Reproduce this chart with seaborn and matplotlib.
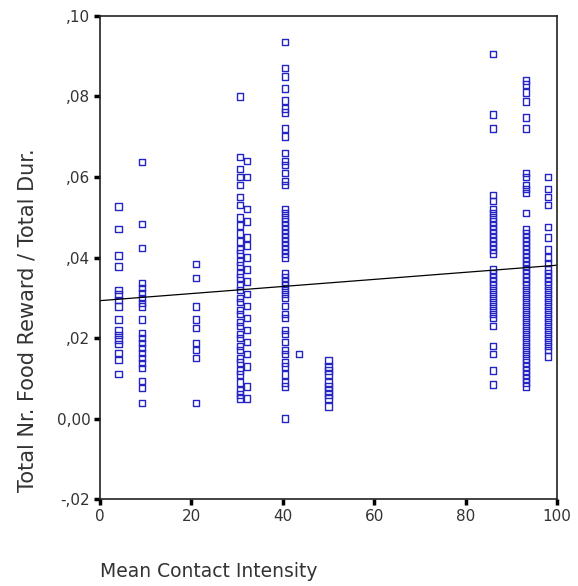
import numpy as np
import pandas as pd
import seaborn as sns
import matplotlib.pyplot as plt

# values, one list per intensity level
int_4 = [0.0527, 0.0471, 0.0405, 0.0378, 0.0320, 0.0308, 0.0295, 0.0279, 0.0246,
         0.0219, 0.0208, 0.0196, 0.0186, 0.0163, 0.0146, 0.0111]
int_9 = [0.0637, 0.0483, 0.0424, 0.0337, 0.0324, 0.0312, 0.0300, 0.0287, 0.0279,
         0.0246, 0.0213, 0.0200, 0.0188, 0.0176, 0.0163, 0.0151, 0.0138, 0.0126,
         0.0093, 0.0076, 0.0039]
int_21 = [0.0384, 0.0349, 0.0279, 0.0246, 0.0225, 0.0188, 0.0171, 0.0151, 0.0039]
int_31a = [0.080, 0.065, 0.062, 0.060, 0.058, 0.055, 0.053, 0.050, 0.048, 0.046,
           0.044, 0.042, 0.041, 0.039, 0.038, 0.036, 0.035, 0.033, 0.032, 0.030,
           0.029, 0.027, 0.026, 0.024, 0.023, 0.021, 0.020, 0.018, 0.017, 0.015,
           0.014, 0.012, 0.011, 0.009, 0.007, 0.006, 0.005]
int_31b = [0.064, 0.060, 0.052, 0.049, 0.045, 0.043, 0.040, 0.037, 0.034, 0.031,
           0.028, 0.025, 0.022, 0.019, 0.016, 0.013, 0.008, 0.005]
int_40 = [0.0935, 0.087, 0.085, 0.082, 0.079, 0.077, 0.076, 0.072, 0.070, 0.066,
          0.064, 0.063, 0.061, 0.059, 0.058, 0.052, 0.051, 0.050, 0.049, 0.048,
          0.047, 0.046, 0.045, 0.044, 0.043, 0.042, 0.041, 0.040, 0.036, 0.035,
          0.034, 0.033, 0.032, 0.031, 0.030, 0.028, 0.026, 0.025, 0.022, 0.021,
          0.019, 0.017, 0.016, 0.014, 0.013, 0.011, 0.009, 0.008, 0.000]
int_43 = [0.016]
int_50 = [0.0145, 0.013, 0.012, 0.011, 0.009, 0.008, 0.007, 0.006, 0.005, 0.003]
int_86 = [0.0905, 0.0755, 0.072, 0.0555, 0.054, 0.052, 0.051, 0.050, 0.049, 0.048,
          0.047, 0.046, 0.045, 0.044, 0.043, 0.042, 0.041, 0.037, 0.036, 0.035,
          0.034, 0.033, 0.032, 0.031, 0.030, 0.029, 0.028, 0.027, 0.026, 0.025,
          0.023, 0.018, 0.016, 0.012, 0.0085]
int_93 = [0.084, 0.083, 0.081, 0.0787, 0.0747, 0.072, 0.061, 0.060, 0.058, 0.057,
          0.056, 0.051, 0.047, 0.046, 0.045, 0.044, 0.043, 0.042, 0.041, 0.040,
          0.039, 0.038, 0.037, 0.036, 0.035, 0.034, 0.033, 0.032, 0.031, 0.030,
          0.029, 0.028, 0.027, 0.026, 0.025, 0.024, 0.023, 0.022, 0.021, 0.020,
          0.019, 0.018, 0.017, 0.016, 0.015, 0.014, 0.013, 0.012, 0.011, 0.010,
          0.009, 0.008]
int_98 = [0.060, 0.057, 0.055, 0.053, 0.0476, 0.045, 0.042, 0.040, 0.0387, 0.037,
          0.036, 0.035, 0.034, 0.033, 0.032, 0.031, 0.030, 0.029, 0.028, 0.027,
          0.026, 0.025, 0.024, 0.023, 0.022, 0.021, 0.020, 0.019, 0.018, 0.017,
          0.0154]

groups = {4: int_4, 9.2: int_9, 21: int_21, 30.6: int_31a, 32.2: int_31b,
          40.5: int_40, 43.5: int_43, 50: int_50, 86: int_86, 93.2: int_93,
          98: int_98}

# fit line
fit_x = [0, 100]
fit_y = [0.0293, 0.0381]

rows = []
for x, vals in groups.items():
    for v in vals:
        rows.append((x, v))
df = pd.DataFrame(rows, columns=['intensity', 'reward'])

sns.set_style('ticks')
plt.rcParams['font.family'] = ['DejaVu Sans']

fig = plt.figure(figsize=(5.78, 5.86), dpi=100)
ax = fig.add_axes([0.173, 0.148, 0.791, 0.825])

sns.scatterplot(data=df, x='intensity', y='reward', marker='s', s=22,
                facecolors='none', edgecolor='#2424c4', linewidth=1.0, ax=ax)
sns.lineplot(x=fit_x, y=fit_y, color='black', linewidth=0.9, ax=ax)

ax.set_xlim(0, 100)
ax.set_ylim(-0.02, 0.10)
ax.set_xticks([0, 20, 40, 60, 80, 100])
ax.set_yticks([-0.02, 0.0, 0.02, 0.04, 0.06, 0.08, 0.10])
ax.set_yticklabels(['-,02', '0,00', ',02', ',04', ',06', ',08', ',10'])
ax.tick_params(length=4, width=2.5, pad=3, labelsize=11, colors='black',
               labelcolor='#333333')
for s in ax.spines.values():
    s.set_linewidth(1.2)
    s.set_color('#222222')

ax.set_xlabel('')
ax.set_ylabel('')
fig.text(0.047, 0.454, 'Total Nr. Food Reward / Total Dur.', fontsize=15,
         color='#333333', rotation=90, ha='center', va='center')
fig.text(0.173, 0.015, 'Mean Contact Intensity', fontsize=13.5, color='#333333')

fig.savefig('out.png', dpi=100)
